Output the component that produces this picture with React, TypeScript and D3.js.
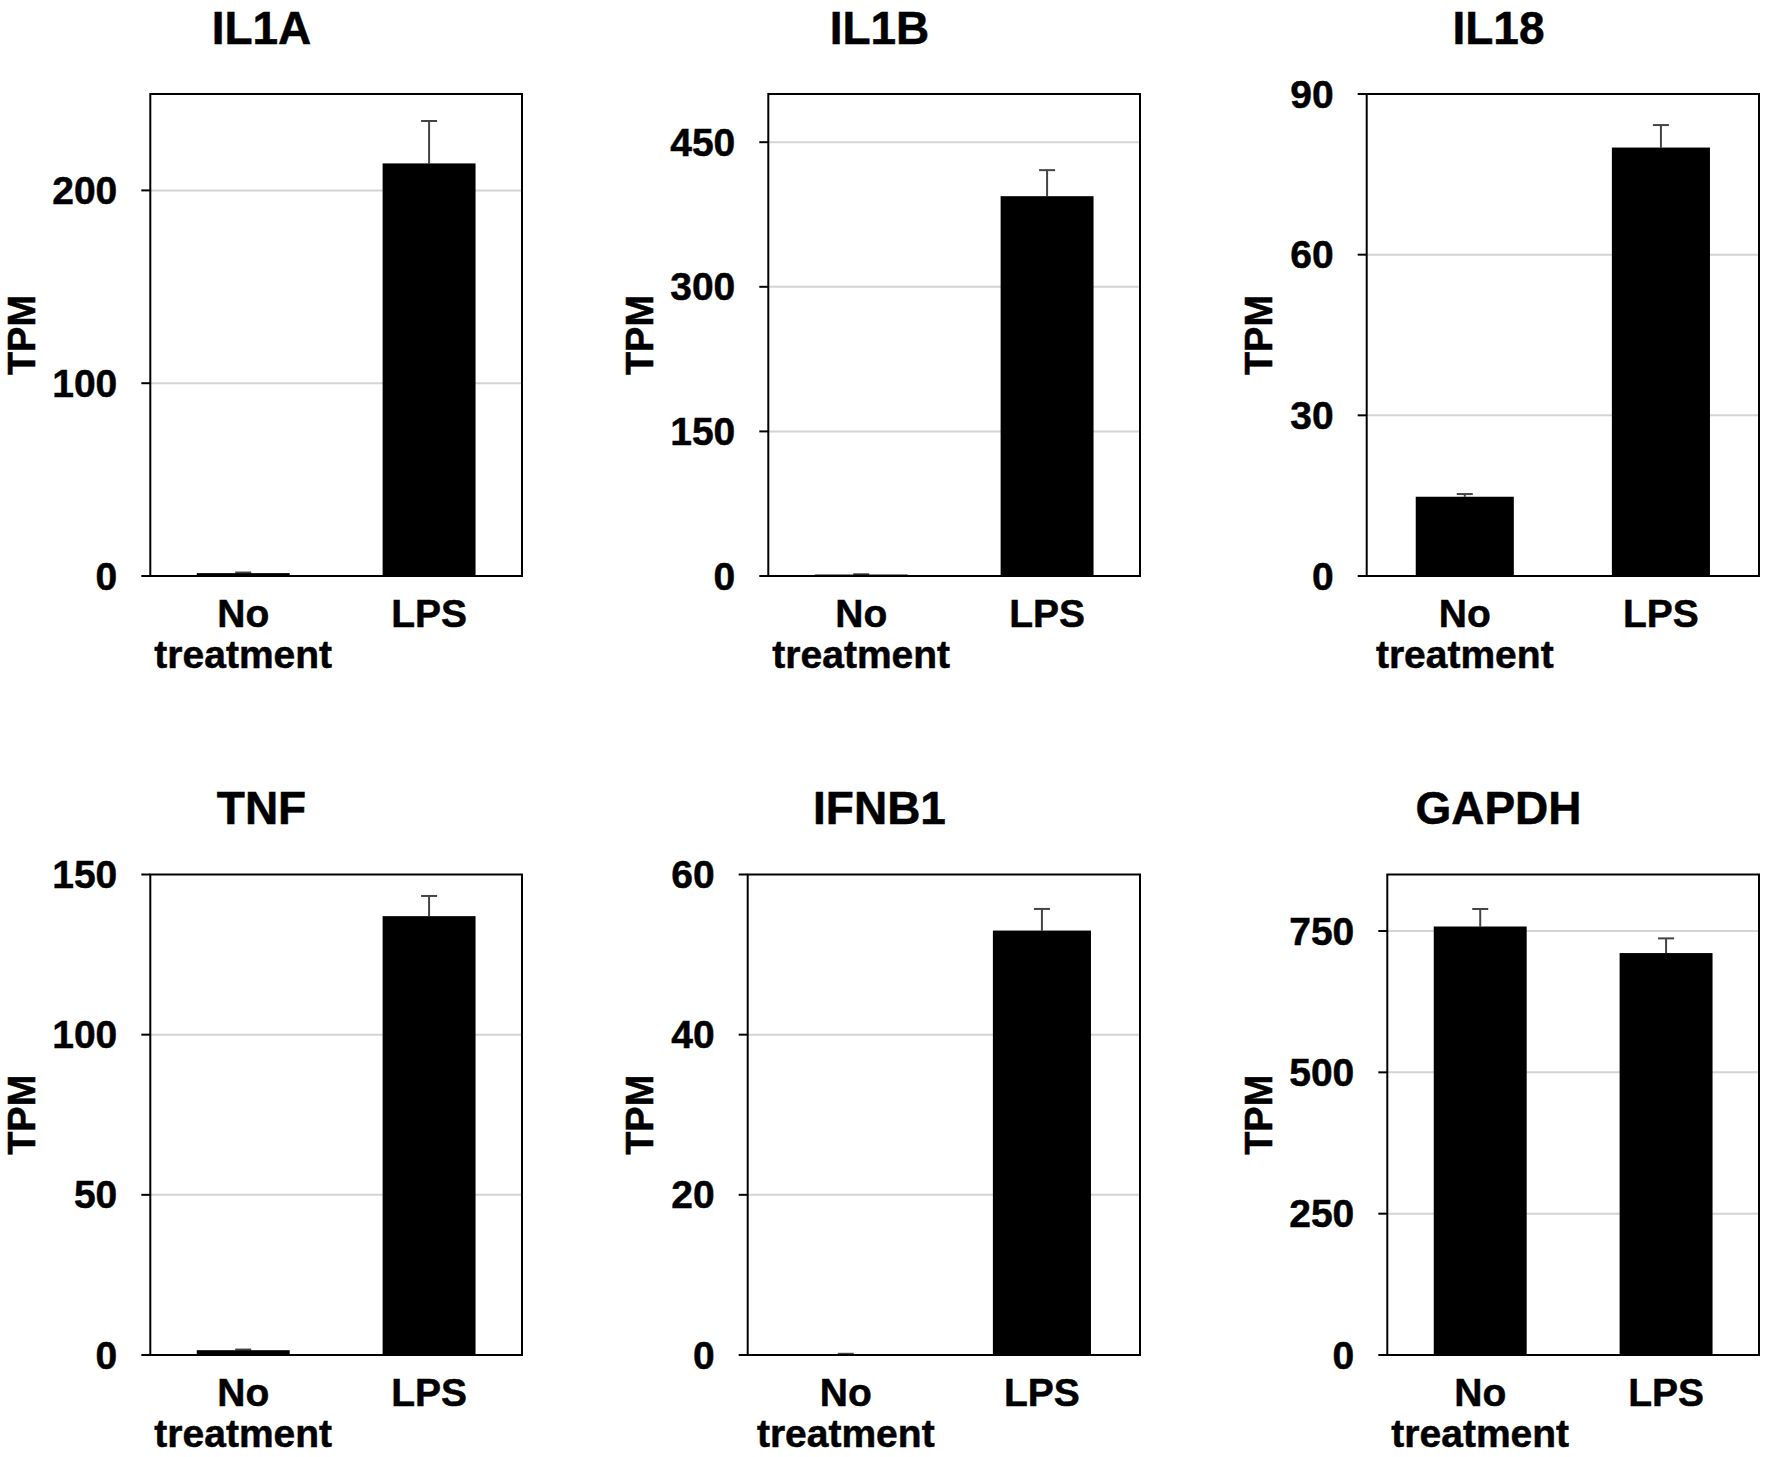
import * as d3 from "d3";

const genes = ["IL1A", "IL1B", "IL18", "TNF", "IFNB1", "GAPDH"];
const conditions = ["No treatment", "LPS"];
const meanNoTreatment = [1.5, 1.5, 14.8, 1.5, 0.1, 758];
const meanLPS = [214, 394, 80, 137, 53, 711];
const errNoTreatment = [0.3, 0.3, 0.5, 0.2, 0.05, 31];
const errLPS = [22, 27, 4.2, 6.3, 2.7, 26];
const yMax = [250, 500, 90, 150, 60, 850];
const yTicks = [
  [0, 100, 200],
  [0, 150, 300, 450],
  [0, 30, 60, 90],
  [0, 50, 100, 150],
  [0, 20, 40, 60],
  [0, 250, 500, 750],
];

// ————— layout —————
const W = 1772;
const H = 1457;
const colX = [21.5, 639.5, 1258.5]; // centre of the rotated "TPM"
const rowTop = [94, 874.5];
const rowBottom = [576, 1355];
const FONT = "'Liberation Sans', Arial, Helvetica, sans-serif";
const tickFs = 39;
const labelFs = 39;
const titleFs = 46;

const textStyle = {
  fontWeight: "bold" as const,
  fontFamily: FONT,
  stroke: "#000",
  strokeWidth: 0.5,
};

const Panel = ({ i }: { i: number }) => {
  const col = i % 3;
  const row = Math.floor(i / 3);
  const tpmX = colX[col];
  const digits = d3.max(yTicks[i], (t) => String(t).length)!;
  const left = tpmX + 67 + digits * 20.6;
  const labelRight = left - 33;
  const right = tpmX + 500.5;
  const top = rowTop[row];
  const bottom = rowBottom[row];

  const x = d3
    .scaleBand<string>()
    .domain(conditions)
    .range([left, right])
    .paddingInner(0.5)
    .paddingOuter(0.25);
  const y = d3.scaleLinear().domain([0, yMax[i]]).range([bottom, top]);

  const means = [meanNoTreatment[i], meanLPS[i]];
  const errs = [errNoTreatment[i], errLPS[i]];

  return (
    <g>
      <text x={tpmX + 240} y={top - 50.5} textAnchor="middle" fontSize={titleFs} style={textStyle}>
        {genes[i]}
      </text>

      {/* grid */}
      {yTicks[i]
        .filter((t) => t > 0 && t < yMax[i])
        .map((t) => (
          <line
            key={"g" + t}
            x1={left}
            x2={right}
            y1={y(t)}
            y2={y(t)}
            stroke="#d4d4d4"
            strokeWidth={2}
          />
        ))}

      {/* bars + error bars */}
      {conditions.map((c, k) => {
        const bx = x(c)!;
        const cx = bx + x.bandwidth() / 2;
        const yTop = y(means[k]);
        const yErr = y(means[k] + errs[k]);
        return (
          <g key={c}>
            <line x1={cx} x2={cx} y1={yTop} y2={yErr} stroke="#444" strokeWidth={2} />
            <line x1={cx - 8} x2={cx + 8} y1={yErr} y2={yErr} stroke="#444" strokeWidth={2} />
            <rect
              x={bx}
              y={yTop}
              width={x.bandwidth()}
              height={Math.max(bottom - yTop, 1.5)}
              fill="#000"
            />
          </g>
        );
      })}

      {/* frame */}
      <rect
        x={left}
        y={top}
        width={right - left}
        height={bottom - top}
        fill="none"
        stroke="#000"
        strokeWidth={2}
      />

      {/* y ticks */}
      {yTicks[i].map((t) => (
        <g key={"t" + t}>
          <line x1={left - 9} x2={left} y1={y(t)} y2={y(t)} stroke="#000" strokeWidth={2} />
          <text x={labelRight} y={y(t)} dy="0.35em" textAnchor="end" fontSize={tickFs} style={textStyle}>
            {t}
          </text>
        </g>
      ))}

      {/* x labels */}
      {conditions.map((c) => {
        const cx = x(c)! + x.bandwidth() / 2;
        const lines = c.split(" ");
        return (
          <text
            key={"x" + c}
            x={cx}
            y={bottom + 51}
            textAnchor="middle"
            fontSize={labelFs}
            style={textStyle}
          >
            {lines.map((l, j) => (
              <tspan key={j} x={cx} dy={j === 0 ? 0 : 40.5}>
                {l}
              </tspan>
            ))}
          </text>
        );
      })}

      {/* y title */}
      <text
        transform={`translate(${tpmX},${(top + bottom) / 2}) rotate(-90)`}
        dy="0.35em"
        textAnchor="middle"
        fontSize={38}
        style={textStyle}
      >
        TPM
      </text>
    </g>
  );
};

export default function App() {
  return (
    <div style={{ position: "absolute", left: 0, top: 0 }}>
      <svg width={W} height={H} viewBox={`0 0 ${W} ${H}`} style={{ display: "block", background: "#fff" }}>
        {genes.map((g, i) => (
          <Panel key={g} i={i} />
        ))}
      </svg>
    </div>
  );
}
